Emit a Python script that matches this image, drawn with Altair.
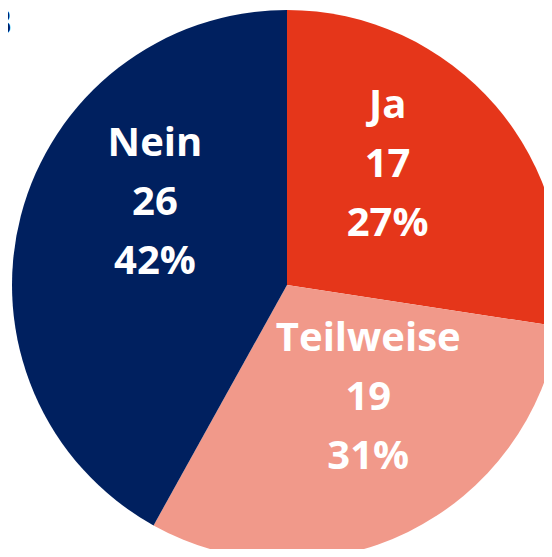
import altair as alt
import pandas as pd

categories = ["Ja", "Teilweise", "Nein"]
counts = [17, 19, 26]
percents = ["27%", "31%", "42%"]
colors = ["#E5361A", "#F1998A", "#00205F"]

df = pd.DataFrame({
    "cat": categories,
    "n": counts,
    "pct": percents,
    "idx": list(range(len(categories))),
})
df["label"] = df["cat"] + "\n" + df["n"].astype(str) + "\n" + df["pct"]

CX, CY = 279, 277
R_LABEL = 155

pie = alt.Chart(df).mark_arc(radius=275, stroke=None).encode(
    theta=alt.Theta("n:Q", stack=True),
    order=alt.Order("idx:Q"),
    color=alt.Color("cat:N", scale=alt.Scale(domain=categories, range=colors), legend=None),
    x=alt.value(CX),
    y=alt.value(CY),
)

label_base = alt.Chart(df).transform_joinaggregate(
    total="sum(n)"
).transform_window(
    cum="sum(n)", sort=[alt.SortField("idx")]
).transform_calculate(
    mid="2*PI*(datum.cum - datum.n/2)/datum.total"
)

offsets = {"Ja": (-17, -78), "Teilweise": (13, -85), "Nein": (18, -102)}
texts = []
for c in categories:
    dx, dy = offsets[c]
    t = label_base.transform_filter(alt.datum.cat == c).transform_calculate(
        px=f"{CX} + {R_LABEL}*sin(datum.mid)",
        py=f"{CY} - {R_LABEL}*cos(datum.mid)",
    ).mark_text(
        lineBreak="\n", font="Open Sans", fontWeight="bold",
        fontSize=40, lineHeight=59, color="white", align="center", baseline="middle",
        dx=dx, dy=dy,
    ).encode(
        text="label:N",
        x=alt.X("px:Q", scale=None, axis=None),
        y=alt.Y("py:Q", scale=None, axis=None),
    )
    texts.append(t)

corner = alt.Chart(pd.DataFrame({"t": ["B"]})).mark_text(
    font="Open Sans", fontWeight="bold", fontSize=36, color="#00205F",
    align="right", baseline="alphabetic",
).encode(text="t:N", x=alt.value(4), y=alt.value(27))

chart = alt.layer(pie, *texts, corner).properties(
    width=536, height=541, padding=0, autosize=alt.AutoSizeParams(type="none")
).configure_view(stroke=None)

chart.save("out.html", embed_options={"renderer": "svg", "actions": False})
